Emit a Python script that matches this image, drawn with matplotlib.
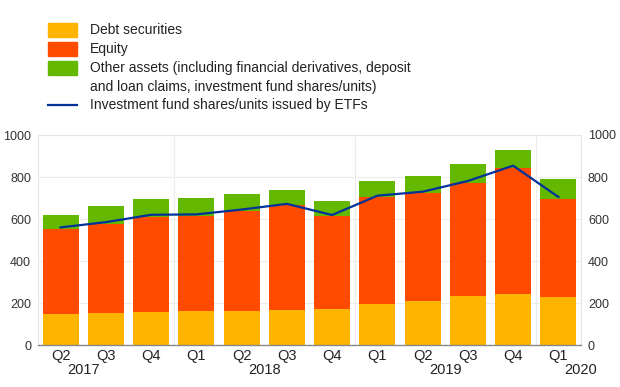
import numpy as np
import matplotlib
matplotlib.use('Agg')
import matplotlib.pyplot as plt
import matplotlib.transforms as mtransforms
from matplotlib.patches import Rectangle
from matplotlib.lines import Line2D

plt.rcParams['font.family'] = ['Liberation Sans', 'DejaVu Sans']

quarters = ['Q2', 'Q3', 'Q4', 'Q1', 'Q2', 'Q3', 'Q4', 'Q1', 'Q2', 'Q3', 'Q4', 'Q1']
years = ['2017', '2018', '2019', '2020']
year_pos = [0.5, 4.5, 8.5, 11.5]  # centre of each year's quarters
year_breaks = [2.5, 6.5, 10.5]

debt = [148, 152, 157, 160, 163, 167, 170, 197, 208, 232, 241, 227]
equity_top = [552, 578, 611, 614, 636, 667, 612, 706, 725, 773, 845, 697]
total = [620, 660, 695, 702, 717, 740, 687, 783, 805, 863, 930, 789]
etf = [560, 585, 620, 622, 645, 672, 619, 711, 730, 781, 854, 705]

equity = np.array(equity_top) - np.array(debt)
other = np.array(total) - np.array(equity_top)

c_debt = '#FFB400'
c_equity = '#FF4B00'
c_other = '#65B800'
c_line = '#003299'
c_text = '#222222'

W, H = 620, 387
fig = plt.figure(figsize=(W / 100, H / 100), dpi=100)
ax = fig.add_axes([38 / W, 1 - 345 / H, (581 - 38) / W, (345 - 135) / H])


def fx(px):
    return px / W


def fy(py):
    return 1 - py / H


x = np.arange(len(quarters))
ax.bar(x, debt, width=0.8, color=c_debt, zorder=2)
ax.bar(x, equity, width=0.8, bottom=debt, color=c_equity, zorder=2)
ax.bar(x, other, width=0.8, bottom=equity_top, color=c_other, zorder=2)
ax.plot(x, etf, color=c_line, lw=1.6, zorder=3)

ax.set_xlim(-0.5, len(quarters) - 0.5)
ax.set_ylim(0, 1000)
ax.set_yticks(range(0, 1001, 200))
ax.set_xticks(x)
ax.set_xticklabels(quarters, fontsize=10.5)
ax.tick_params(axis='x', length=0, pad=3, colors=c_text)
ax.tick_params(axis='y', length=0, labelsize=9, colors='#333333', pad=5)

ax.grid(axis='y', color='#ececec', lw=0.8, zorder=0)
for b in year_breaks:
    ax.axvline(b, color='#ececec', lw=0.8, zorder=0)
year_tr = mtransforms.blended_transform_factory(ax.transData, fig.transFigure)
for yp, yl in zip(year_pos, years):
    ax.text(yp, fy(370), yl, transform=year_tr, ha='center', va='center',
            fontsize=10.5, color=c_text)

for s in ['top', 'left', 'right']:
    ax.spines[s].set_color('#e6e6e6')
    ax.spines[s].set_linewidth(0.8)
ax.spines['bottom'].set_color('#888888')
ax.spines['bottom'].set_linewidth(1.0)

ax2 = ax.twinx()
ax2.set_ylim(ax.get_ylim())
ax2.set_yticks(range(0, 1001, 200))
ax2.tick_params(axis='y', length=0, labelsize=9, colors='#333333', pad=5)
for s in ax2.spines.values():
    s.set_visible(False)

# legend drawn by hand so the multi-line entry keeps its patch on the first line
legend_rows = [
    (c_debt, 'Debt securities', 22.5, 36.5),
    (c_equity, 'Equity', 41.5, 55.5),
    (c_other, 'Other assets (including financial derivatives, deposit', 60.5, 74.5),
]
for col, label, top, bot in legend_rows:
    fig.add_artist(Rectangle((fx(48), fy(bot)), fx(77) - fx(48), fy(top) - fy(bot),
                             transform=fig.transFigure, color=col))
    fig.text(fx(90), fy((top + bot) / 2 + 0.5), label, va='center', ha='left',
             fontsize=10, color=c_text)
fig.text(fx(90), fy(87.5), 'and loan claims, investment fund shares/units)', va='center',
         ha='left', fontsize=10, color=c_text)
fig.add_artist(Line2D([fx(48), fx(77)], [fy(105), fy(105)], transform=fig.transFigure,
                      color=c_line, lw=1.6))
fig.text(fx(90), fy(105.5), 'Investment fund shares/units issued by ETFs', va='center',
         ha='left', fontsize=10, color=c_text)

fig.savefig('out.png', dpi=100)
